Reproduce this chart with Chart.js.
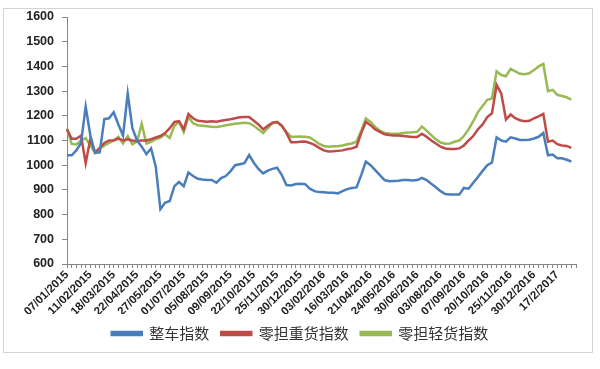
<!DOCTYPE html>
<html>
<head>
<meta charset="utf-8">
<script src="https://cdn.jsdelivr.net/npm/chart.js@4/dist/chart.umd.min.js"></script>
<style>
    body { margin: 0; background: #fff; }
    #wrap { position: relative; width: 600px; height: 369px; }
    #frame { position: absolute; left: 3px; top: 8px; width: 588px; height: 343px; border: 1px solid #d4d4d4; pointer-events: none; }
</style>
</head>
<body>
<div id="wrap">
    <canvas id="linechart" width="600" height="369"></canvas>
    <div id="frame"></div>
</div>
<script>
// every 5th week gets a label on the axis
let tickLabels = [
    '07/01/2015', '11/02/2015', '18/03/2015', '22/04/2015', '27/05/2015', '01/07/2015',
    '05/08/2015', '09/09/2015', '22/10/2015', '25/11/2015', '30/12/2015', '03/02/2016',
    '16/03/2016', '21/04/2016', '24/05/2016', '30/06/2016', '03/08/2016', '07/09/2016',
    '20/10/2016', '25/11/2016', '30/12/2016', '17/2/2017'
];

let seriesNames = ['整车指数', '零担重货指数', '零担轻货指数'];

let zhengche = [
    1040, 1040, 1060, 1090, 1237, 1120, 1050, 1052, 1187, 1190,
    1214, 1165, 1120, 1290, 1150, 1100, 1075, 1045, 1068, 995,
    822, 848, 855, 915, 932, 915, 970, 956, 945, 942,
    940, 940, 929, 948, 956, 975, 1000, 1004, 1008, 1041,
    1010, 985, 967, 978, 985, 990, 960, 920, 918, 924,
    925, 923, 905, 895, 891, 890, 888, 888, 886, 895,
    903, 908, 910, 960, 1015, 1000, 980, 960, 940, 935,
    936, 937, 940, 940, 938, 940, 949, 940, 925, 911,
    895, 883, 881, 881, 881, 908, 905, 929, 952, 977,
    1000, 1011, 1113, 1100, 1095, 1113, 1108, 1102, 1102, 1103,
    1108, 1115, 1130, 1040, 1043, 1028, 1028, 1022, 1015
];

let zhonghuo = [
    1145, 1107, 1107, 1120, 1008, 1107, 1052, 1070, 1090, 1100,
    1100, 1108, 1100, 1105, 1100, 1098, 1100, 1100, 1105, 1112,
    1118, 1130, 1150, 1175, 1178, 1145, 1207, 1190, 1180, 1178,
    1176, 1178, 1176, 1180, 1183, 1186, 1190, 1194, 1195, 1195,
    1180, 1165, 1145, 1160, 1172, 1175, 1160, 1130, 1093, 1093,
    1095, 1096, 1090, 1082, 1070, 1060, 1055, 1056, 1058, 1060,
    1065, 1068, 1075, 1130, 1175, 1162, 1145, 1135, 1125, 1122,
    1120, 1120, 1118, 1116, 1114, 1114, 1127, 1115, 1100, 1088,
    1075, 1068, 1066, 1066, 1068, 1080, 1100, 1118, 1145, 1165,
    1195, 1210, 1325, 1290, 1185, 1205, 1190, 1182, 1178, 1180,
    1190, 1198, 1208, 1095, 1100, 1085, 1080, 1078, 1070
];

let qinghuo = [
    1148, 1086, 1084, 1100, 1110, 1080, 1050, 1065, 1080, 1090,
    1100, 1115, 1088, 1118, 1085, 1095, 1168, 1088, 1095, 1105,
    1112, 1125, 1110, 1160, 1175, 1134, 1195, 1170, 1162, 1160,
    1158, 1156, 1155, 1158, 1162, 1165, 1168, 1170, 1172, 1170,
    1160, 1145, 1130, 1150, 1170, 1175, 1158, 1135, 1115, 1115,
    1116, 1115, 1112, 1100, 1086, 1078, 1075, 1077, 1077, 1080,
    1085, 1088, 1095, 1140, 1189, 1175, 1155, 1140, 1130, 1128,
    1127, 1127, 1130, 1132, 1133, 1135, 1157, 1140, 1122, 1105,
    1092, 1087, 1088, 1095, 1100, 1118, 1145, 1178, 1215, 1240,
    1265, 1270, 1380, 1365, 1360, 1390, 1380, 1370, 1368, 1372,
    1385, 1400, 1410, 1300, 1305, 1285, 1280, 1275, 1265
];

// one empty slot after the last week, the axis runs a bit past the data
let categories = [];
for (let i = 0; i <= zhengche.length; i++) {
    categories.push(i % 5 === 0 && tickLabels[i / 5] ? tickLabels[i / 5] : '');
}

let axisGrey = '#868686';
let ctx = document.getElementById('linechart').getContext('2d');

new Chart(ctx, {
    type: 'line',
    data: {
        labels: categories,
        datasets: [
            { label: seriesNames[0], data: zhengche, borderColor: '#4A7EBB', backgroundColor: '#4A7EBB' },
            { label: seriesNames[1], data: zhonghuo, borderColor: '#BE4B48', backgroundColor: '#BE4B48' },
            { label: seriesNames[2], data: qinghuo, borderColor: '#98B954', backgroundColor: '#98B954' }
        ]
    },
    options: {
        responsive: false,
        animation: false,
        devicePixelRatio: 1,
        elements: {
            line: { borderWidth: 2.5, tension: 0 },
            point: { radius: 0 }
        },
        layout: {
            padding: { top: 17, right: 24, bottom: 18, left: 24 }
        },
        scales: {
            x: {
                offset: false,
                afterFit(scale) { scale.height = 50; },
                border: { color: axisGrey, width: 1 },
                grid: { drawOnChartArea: false, drawTicks: true, tickLength: 4, color: axisGrey },
                ticks: {
                    autoSkip: false,
                    minRotation: 45,
                    maxRotation: 45,
                    padding: 0,
                    color: '#222',
                    font: { family: 'Liberation Sans', size: 11.5, weight: 'bold' }
                }
            },
            y: {
                min: 600,
                max: 1600,
                afterFit(scale) { scale.width = 43; },
                border: { color: axisGrey, width: 1 },
                grid: { drawOnChartArea: false, drawTicks: true, tickLength: 5, color: axisGrey },
                ticks: {
                    stepSize: 100,
                    padding: 8,
                    color: '#222',
                    font: { family: 'Liberation Sans', size: 12.5, weight: 'bold' },
                    callback(value) {
                        return String(value);
                    }
                }
            }
        },
        plugins: {
            legend: {
                position: 'bottom',
                labels: {
                    boxWidth: 30,
                    boxHeight: 3,
                    padding: 12,
                    color: '#333',
                    font: { family: 'Noto Sans CJK SC', size: 15 }
                }
            },
            tooltip: { enabled: false }
        }
    }
});
</script>
</body>
</html>
